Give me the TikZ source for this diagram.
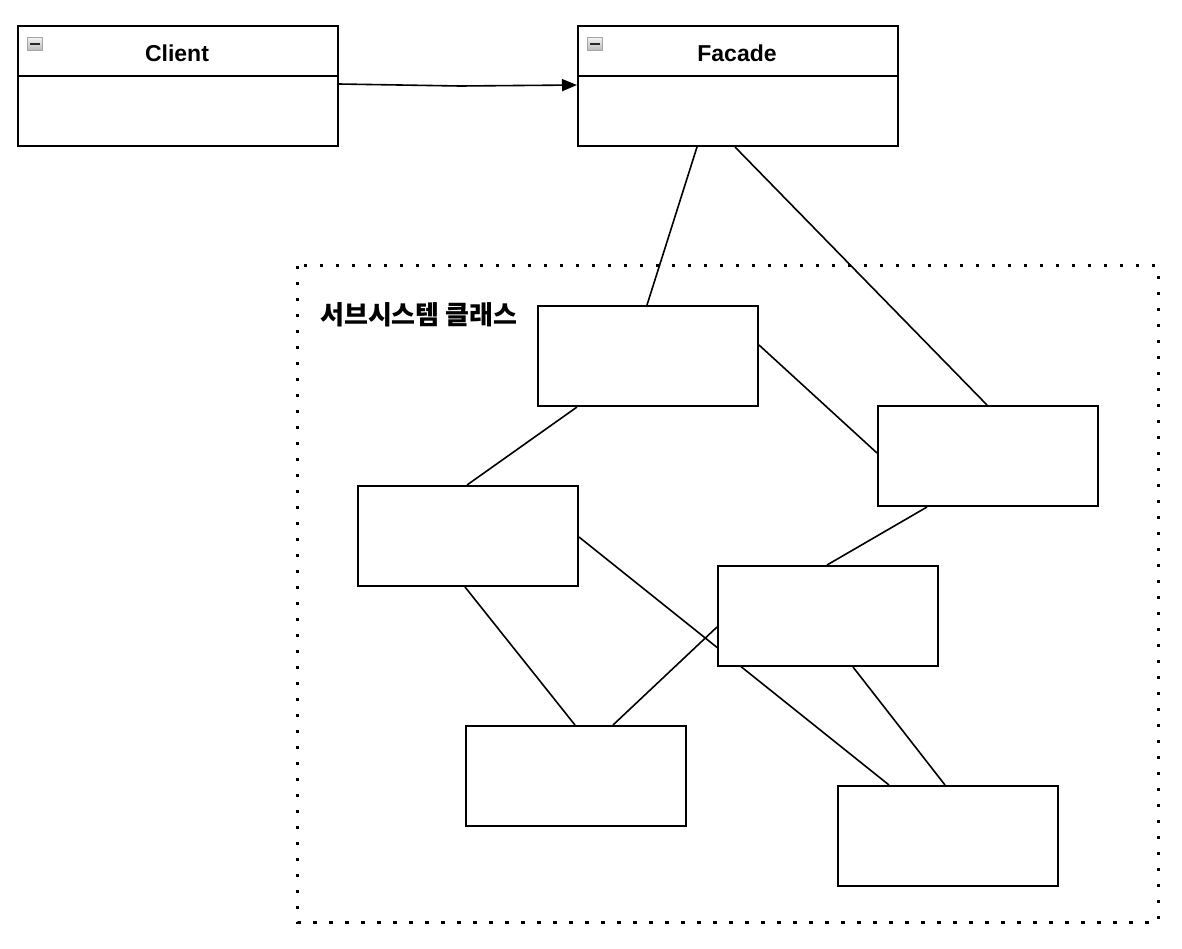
\documentclass[tikz,border=0pt]{standalone}
\usepackage{fontspec}
\setmainfont{Liberation Sans}
\newfontfamily\kofont{Noto Sans CJK KR}
\usetikzlibrary{calc,arrows.meta,backgrounds}
\begin{document}
\begin{tikzpicture}[x=1pt,y=-1pt,
  classbox/.style={draw,line width=2pt,rectangle,minimum width=320pt,minimum height=120pt,inner sep=0pt,fill=white},
  subbox/.style={draw,line width=2pt,rectangle,minimum width=220pt,minimum height=100pt,inner sep=0pt,fill=white},
  conn/.style={line width=1.6pt},
  title/.style={font=\fontsize{23}{27}\selectfont\bfseries,inner sep=0pt},
  icon/.style={draw=gray!70,top color=gray!10,bottom color=gray!55,line width=1pt,minimum width=15pt,minimum height=13pt,inner sep=0pt}
]
\useasboundingbox (0,0) rectangle (1182,948);
% class boxes
\node[classbox] (client) at (178,86) {};
\node[classbox] (facade) at (738,86) {};
\draw[line width=2pt] ($(client.north west)+(0,51)$) -- ($(client.north east)+(0,51)$);
\draw[line width=2pt] ($(facade.north west)+(0,51)$) -- ($(facade.north east)+(0,51)$);
\node[title] (clientlbl) at (177,53) {Client};
\node[title] (facadelbl) at (737,53) {Facade};
\node[icon] (ic1) at (35,44) {};
\node[icon] (ic2) at (595,44) {};
\draw[line width=2.6pt,black!85] ($(ic1.west)+(3,0)$) -- ($(ic1.east)+(-3,0)$);
\draw[line width=2.6pt,black!85] ($(ic2.west)+(3,0)$) -- ($(ic2.east)+(-3,0)$);
% association arrow
\coordinate (bend) at (460,86);
\draw[conn,-{Triangle[length=15pt,width=12pt]}] ($(client.north east)+(0,59)$) -- (bend) -- ($(facade.north west)+(0,60)$);
% subsystem frame
\node[draw=none,inner sep=0pt,minimum width=860pt,minimum height=656pt] (frame) at (728,594) {};
\draw[line width=3.2pt,dash pattern=on 3.2pt off 12.8pt] (frame.north west) rectangle (frame.south east);
\node[font=\kofont\fontsize{26}{30}\selectfont\bfseries,anchor=west,inner sep=0pt] (framelbl) at (320,315) {서브시스템 클래스};
% subsystem classes
\node[subbox] (A) at (648,356) {};
\node[subbox] (B) at (988,456) {};
\node[subbox] (C) at (468,536) {};
\node[subbox] (D) at (828,616) {};
\node[subbox] (E) at (576,776) {};
\node[subbox] (F) at (948,836) {};
\begin{scope}[on background layer]
\draw[conn] ($(facade.south west)+(120,0)$) -- ($(A.north west)+(110,0)$);
\draw[conn] ($(facade.south west)+(158,0)$) -- ($(B.north west)+(110,0)$);
\draw[conn] ($(A.north east)+(0,40)$) -- ($(B.north west)+(0,48)$);
\draw[conn] ($(A.south west)+(40,0)$) -- ($(C.north west)+(110,0)$);
\draw[conn] ($(B.south west)+(50,0)$) -- ($(D.north west)+(110,0)$);
\draw[conn] ($(C.north east)+(0,52)$) -- ($(F.north west)+(52,0)$);
\draw[conn] ($(C.south west)+(108,0)$) -- ($(E.north west)+(110,0)$);
\draw[conn] ($(E.north west)+(148,0)$) -- ($(D.north west)+(0,62)$);
\draw[conn] ($(D.south west)+(136,0)$) -- ($(F.north west)+(108,0)$);
\end{scope}
\end{tikzpicture}
\end{document}
